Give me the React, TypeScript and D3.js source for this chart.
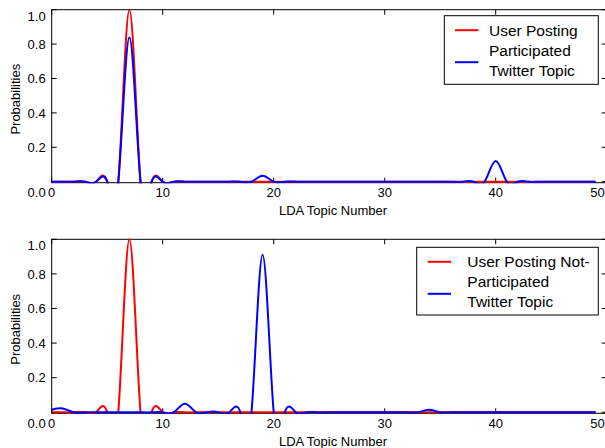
import React from 'react';
import * as d3 from 'd3';

// LDA topic numbers 0..49
const topicNumbers = [
  0, 1, 2, 3, 4, 5, 6, 7, 8, 9, 10, 11, 12, 13, 14, 15, 16, 17, 18, 19,
  20, 21, 22, 23, 24, 25, 26, 27, 28, 29, 30, 31, 32, 33, 34, 35, 36, 37, 38, 39,
  40, 41, 42, 43, 44, 45, 46, 47, 48, 49,
];

// Panel 1: participated
const userPostingTop = [
  0, 0, 0, 0, 0, 0, 0, 1.0, 0, 0, 0, 0, 0, 0, 0, 0, 0, 0, 0, 0,
  0, 0, 0, 0, 0, 0, 0, 0, 0, 0, 0, 0, 0, 0, 0, 0, 0, 0, 0, 0,
  0, 0, 0, 0, 0, 0, 0, 0, 0, 0,
];
const twitterTopicTop = [
  0, 0, 0, 0, 0, 0, 0, 0.84, 0, 0, 0, 0, 0, 0, 0, 0, 0, 0, 0, 0.035,
  0, 0, 0, 0, 0, 0, 0, 0, 0, 0, 0, 0, 0, 0, 0, 0, 0, 0, 0, 0,
  0.12, 0, 0, 0, 0, 0, 0, 0, 0, 0,
];

// Panel 2: not participated
const userPostingBottom = [
  0, 0, 0, 0, 0, 0, 0, 1.0, 0, 0, 0, 0, 0, 0, 0, 0, 0, 0, 0, 0,
  0, 0, 0, 0, 0, 0, 0, 0, 0, 0, 0, 0, 0, 0, 0, 0, 0, 0, 0, 0,
  0, 0, 0, 0, 0, 0, 0, 0, 0, 0,
];
const twitterTopicBottom = [
  0.015, 0.022, 0, 0, 0, 0, 0, 0, 0, 0, 0, 0, 0.05, 0, 0, 0, 0, 0, 0, 0.91,
  0, 0, 0, 0, 0, 0, 0, 0, 0, 0, 0, 0, 0, 0, 0.015, 0, 0, 0, 0, 0,
  0, 0, 0, 0, 0, 0, 0, 0, 0, 0,
];

const xTicks = [0, 10, 20, 30, 40, 50];
const yTicks = [0, 0.2, 0.4, 0.6, 0.8, 1.0];
const yTickLabels = ['0.0', '0.2', '0.4', '0.6', '0.8', '1.0'];

const legendTop = { red: ['User Posting'], blue: ['Participated', 'Twitter Topic'] };
const legendBottom = { red: ['User Posting Not-'], blue: ['Participated', 'Twitter Topic'] };

const FONT = '"Liberation Sans", Arial, Helvetica, sans-serif';

type PanelProps = {
  id: string;
  top: number;
  bottom: number;
  red: number[];
  blue: number[];
  legend: { red: string[]; blue: string[] };
  legendBox: { x: number; y: number; w: number; h: number; textX: number; lineX0: number; lineX1: number };
};

const LEFT = 51.7;
const RIGHT = 606.7;

function Panel({ id, top, bottom, red, blue, legend, legendBox }: PanelProps) {
  const x = d3.scaleLinear().domain([0, 50]).range([LEFT, RIGHT]);
  const y = d3.scaleLinear().domain([0, 1]).range([bottom - 1, top]);
  const line = d3
    .line<number>()
    .x((_, i) => x(topicNumbers[i]))
    .y((d) => y(d))
    .curve(d3.curveNatural);

  const tickLen = 5;
  const labelBaseline = bottom + 14.7;
  const lines = [...legend.red, ...legend.blue];
  const lh = 20;
  const firstCenter = legendBox.y + 14.5;
  const redY = firstCenter;
  const blueY = firstCenter + lh * (legend.red.length + (legend.blue.length - 1) / 2) + 2;

  const yLabelNodes = yTicks.map((t, i) => {
    let yy = y(t) + 4.6;
    if (i === 0) yy = labelBaseline;
    if (i === yTicks.length - 1) yy = y(t) + 4.6 + 6.5;
    return (
      <text key={'ylab-' + i} x={LEFT - 6} y={yy} textAnchor="end" fontSize={13} fontFamily={FONT} fill="#000">
        {yTickLabels[i]}
      </text>
    );
  });

  return (
    <g>
      <defs>
        <clipPath id={id}>
          <rect x={LEFT} y={top - 2} width={RIGHT - LEFT} height={bottom - top + 2.5} />
        </clipPath>
      </defs>
      {/* frame */}
      <rect x={LEFT} y={top} width={RIGHT - LEFT} height={bottom - top} fill="none" stroke="#000" strokeWidth={1} />
      {/* x ticks */}
      {xTicks.map((t) => (
        <g key={'xt-' + t}>
          <line x1={x(t)} x2={x(t)} y1={bottom} y2={bottom - tickLen} stroke="#000" />
          <line x1={x(t)} x2={x(t)} y1={top} y2={top + tickLen} stroke="#000" />
        </g>
      ))}
      {/* y ticks */}
      {yTicks.map((t, i) => (
        <g key={'yt-' + i}>
          <line x1={LEFT} x2={LEFT + tickLen} y1={y(t)} y2={y(t)} stroke="#000" />
          <line x1={RIGHT} x2={RIGHT - tickLen} y1={y(t)} y2={y(t)} stroke="#000" />
        </g>
      ))}
      {/* curves */}
      <g clipPath={`url(#${id})`}>
        <path d={line(red) || ''} fill="none" stroke="#ff0000" strokeWidth={2} />
        <path d={line(blue) || ''} fill="none" stroke="#0000ff" strokeWidth={2} />
      </g>
      {/* x tick labels */}
      {xTicks.map((t, i) => {
        const last = i === xTicks.length - 1;
        return (
          <text
            key={'xl-' + t}
            x={last ? x(t) - 2 : x(t)}
            y={labelBaseline}
            textAnchor={last ? 'end' : 'middle'}
            fontSize={13}
            fontFamily={FONT}
            fill="#000"
          >
            {String(t)}
          </text>
        );
      })}
      {/* y tick labels */}
      <g>{yLabelNodes}</g>
      {/* axis titles */}
      <text x={333} y={bottom + 32.7} textAnchor="middle" fontSize={13} fontFamily={FONT} fill="#000">
        LDA Topic Number
      </text>
      <text
        transform={`translate(19.5, ${(top + bottom) / 2 + 3}) rotate(-90)`}
        textAnchor="middle"
        fontSize={13}
        fontFamily={FONT}
        fill="#000"
      >
        Probabilities
      </text>
      {/* legend */}
      <rect x={legendBox.x} y={legendBox.y} width={legendBox.w} height={legendBox.h} fill="#fff" stroke="#000" strokeWidth={1} />
      <line x1={legendBox.lineX0} x2={legendBox.lineX1} y1={redY} y2={redY} stroke="#ff0000" strokeWidth={2} />
      <line x1={legendBox.lineX0} x2={legendBox.lineX1} y1={blueY} y2={blueY} stroke="#0000ff" strokeWidth={2} />
      {lines.map((s, i) => (
        <text key={'lg' + i} x={legendBox.textX} y={firstCenter + i * lh + 5.5} fontSize={15.5} fontFamily={FONT} fill="#000">
          {s}
        </text>
      ))}
    </g>
  );
}

export default function App() {
  return (
    <svg width={605} height={448} style={{ position: 'absolute', left: 0, top: 0, background: '#fff' }}>
      <rect x={0} y={0} width={605} height={448} fill="#fff" />
      <Panel
        id="clipTop"
        top={9.7}
        bottom={182.7}
        red={userPostingTop}
        blue={twitterTopicTop}
        legend={legendTop}
        legendBox={{ x: 444.3, y: 15.7, w: 154, h: 68.6, textX: 489, lineX0: 455, lineX1: 478.3 }}
      />
      <Panel
        id="clipBottom"
        top={239.3}
        bottom={413.3}
        red={userPostingBottom}
        blue={twitterTopicBottom}
        legend={legendBottom}
        legendBox={{ x: 416.7, y: 247.3, w: 181.6, h: 67.7, textX: 467.3, lineX0: 427.7, lineX1: 451 }}
      />
    </svg>
  );
}
